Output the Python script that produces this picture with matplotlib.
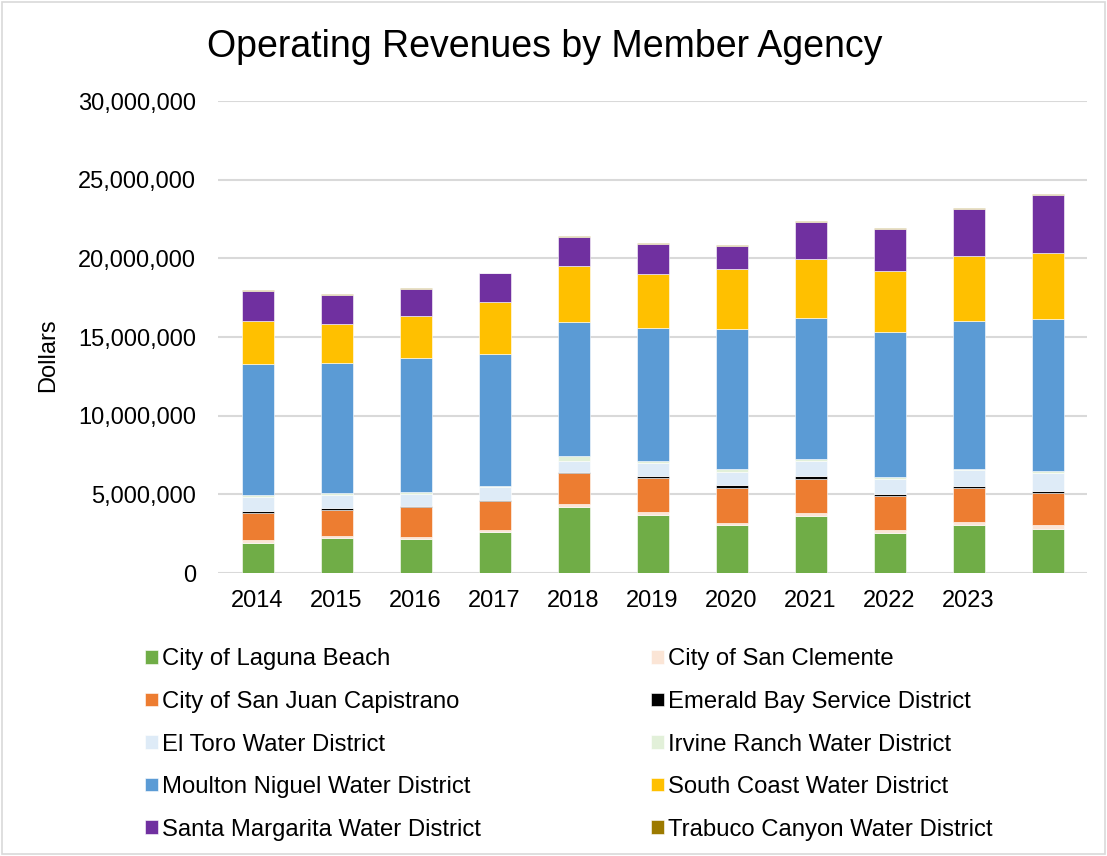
import matplotlib.pyplot as plt
from matplotlib.patches import Rectangle
import numpy as np

plt.rcParams['font.family'] = ['Liberation Sans', 'DejaVu Sans']

# fiscal years; the last bar has no tick label in the source chart
years = ['2014', '2015', '2016', '2017', '2018', '2019', '2020', '2021', '2022', '2023', '']

agencies = ['City of Laguna Beach', 'City of San Clemente', 'City of San Juan Capistrano',
            'Emerald Bay Service District', 'El Toro Water District', 'Irvine Ranch Water District',
            'Moulton Niguel Water District', 'South Coast Water District',
            'Santa Margarita Water District', 'Trabuco Canyon Water District']

# values in millions of dollars
laguna_beach = [1.93, 2.20, 2.14, 2.60, 4.18, 3.71, 3.03, 3.64, 2.56, 3.07, 2.82]
san_clemente = [0.17, 0.15, 0.15, 0.15, 0.19, 0.19, 0.15, 0.17, 0.19, 0.17, 0.21]
san_juan_cap = [1.73, 1.67, 1.89, 1.84, 1.97, 2.16, 2.25, 2.16, 2.12, 2.14, 2.07]
emerald_bay = [0.13, 0.11, 0.10, 0.07, 0.10, 0.11, 0.17, 0.19, 0.17, 0.15, 0.13]
el_toro = [0.85, 0.80, 0.74, 0.83, 0.70, 0.81, 0.85, 0.93, 0.93, 1.00, 1.12]
irvine_ranch = [0.15, 0.17, 0.15, 0.06, 0.32, 0.17, 0.19, 0.15, 0.13, 0.08, 0.13]
moulton_niguel = [8.33, 8.26, 8.52, 8.37, 8.52, 8.45, 8.88, 8.98, 9.24, 9.39, 9.66]
south_coast = [2.75, 2.48, 2.63, 3.32, 3.56, 3.43, 3.79, 3.73, 3.86, 4.13, 4.18]
santa_margarita = [1.90, 1.82, 1.76, 1.80, 1.84, 1.87, 1.50, 2.37, 2.65, 3.00, 3.72]
trabuco = [0.06, 0.06, 0.06, 0.04, 0.06, 0.08, 0.06, 0.06, 0.11, 0.06, 0.06]

series = [laguna_beach, san_clemente, san_juan_cap, emerald_bay, el_toro,
          irvine_ranch, moulton_niguel, south_coast, santa_margarita, trabuco]
colors = ['#70AD47', '#FBE5D6', '#ED7D31', '#000000', '#DEEBF7',
          '#E2F0D9', '#5B9BD5', '#FFC000', '#7030A0', '#9C7A00']

fig = plt.figure(figsize=(11.07, 8.56), dpi=100)
ax = fig.add_axes([0.197, 0.3306, 0.785, 0.5514])

x = np.arange(len(years))
bottom = np.zeros(len(years))
handles = []
for vals, name, col in zip(series, agencies, colors):
    v = np.array(vals) * 1e6
    b = ax.bar(x, v, 0.405, bottom=bottom, color=col, label=name,
               edgecolor='white', linewidth=0.4, zorder=3)
    handles.append(b)
    bottom += v

ax.set_ylim(0, 30e6)
ax.set_xlim(-0.5, len(years) - 0.5)
ax.set_yticks(np.arange(0, 30e6 + 1, 5e6))
ax.yaxis.set_major_formatter(plt.FuncFormatter(lambda v, p: f'{int(v):,}'))
ax.set_xticks(x)
ax.set_xticklabels(years)
ax.tick_params(axis='both', length=0, labelsize=17)
ax.tick_params(axis='y', pad=16)
ax.tick_params(axis='x', pad=12)
ax.grid(axis='y', color='#D9D9D9', linewidth=1.5, zorder=0)
for s in ax.spines.values():
    s.set_visible(False)

ax.set_ylabel('Dollars', fontsize=17)
ax.yaxis.set_label_coords(-0.183, 0.462)
fig.text(0.492, 0.945, 'Operating Revenues by Member Agency', fontsize=27,
         ha='center', va='center')

# legend laid out in two columns, row order as in the source
left = handles[0::2]
right = handles[1::2]
kw = dict(frameon=False, fontsize=17.2, handlelength=0.55, handleheight=0.5,
          handletextpad=0.17, labelspacing=0.86, loc='upper left', borderpad=0,
          borderaxespad=0)
fig.legend(left, [h.get_label() for h in left],
           bbox_to_anchor=(0.131, 0.2425), **kw)
fig.legend(right, [h.get_label() for h in right],
           bbox_to_anchor=(0.588, 0.2425), **kw)

fig.patches.append(Rectangle((0.002, 0.002), 0.996, 0.996, transform=fig.transFigure,
                             fill=False, edgecolor='#D9D9D9', linewidth=1.2))

fig.savefig('out.png', dpi=100)
